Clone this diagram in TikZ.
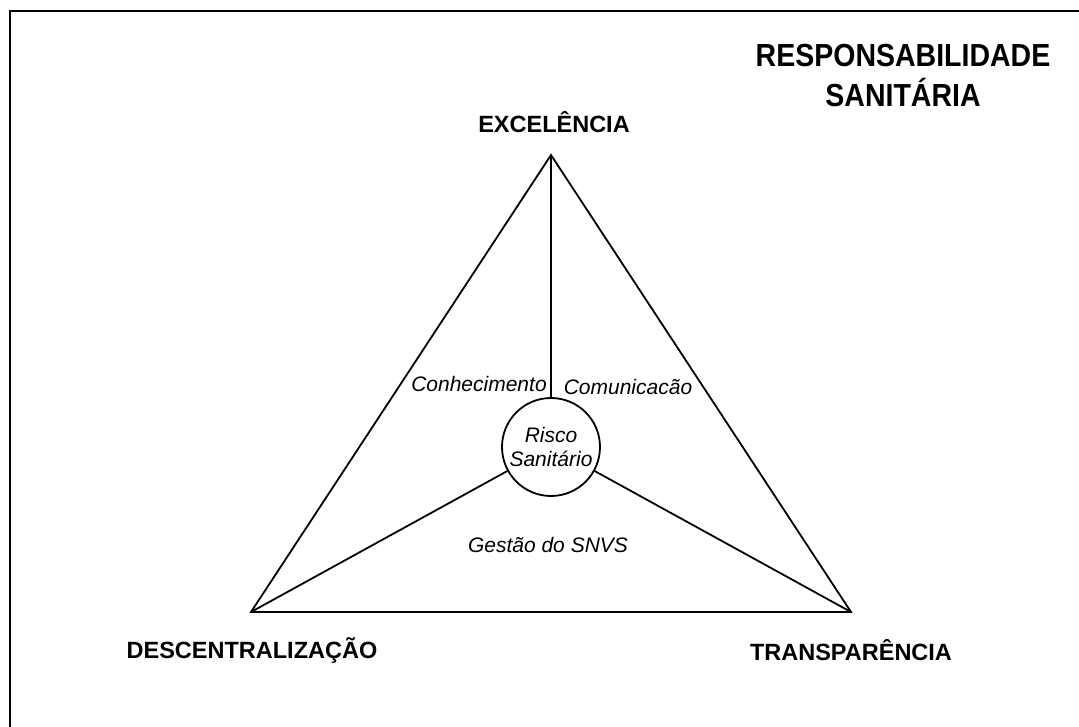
\documentclass[tikz,border=0pt]{standalone}
\usepackage{fontspec}
\setmainfont{Liberation Sans}
\begin{document}
\begin{tikzpicture}[x=1pt,y=-1pt,line width=1.8pt,
  vertexlabel/.style={font=\fontsize{23.5}{28}\selectfont\bfseries, inner sep=0pt},
  titlelabel/.style={font=\fontsize{28.5}{34}\selectfont\bfseries, inner sep=0pt},
  arealabel/.style={font=\fontsize{21}{24}\selectfont\itshape, inner sep=0pt},
  riskbox/.style={circle, draw, minimum size=98pt, inner sep=0pt, align=center,
    font=\fontsize{21}{24}\selectfont\itshape}]
\useasboundingbox (0,0) rectangle (1079,727);
\draw[line width=2pt] (10,11) rectangle (1095,745);
\coordinate (A) at (551,155);
\coordinate (B) at (251,612);
\coordinate (C) at (851,612);
\node[riskbox] (R) at (551,447) {Risco\\Sanitário};
\draw (A) -- (B) -- (C) -- cycle;
\draw (A) -- (R);
\draw (R) -- (B);
\draw (R) -- (C);
\node[titlelabel] (title) at (903,79) {\scalebox{1}[1.12]{\begin{tabular}{@{}c@{}}RESPONSABILIDADE\\SANITÁRIA\end{tabular}}};
\node[vertexlabel] (exc) at (554,122) {EXCELÊNCIA};
\node[vertexlabel] (desc) at (252,650) {DESCENTRALIZAÇÃO};
\node[vertexlabel] (transp) at (851,650) {TRANSPARÊNCIA};
\node[arealabel] (conh) at (479,384) {Conhecimento};
\node[arealabel] (comu) at (628,387) {Comunicacão};
\node[arealabel] (gest) at (548,545) {Gestão do SNVS};
\end{tikzpicture}
\end{document}
